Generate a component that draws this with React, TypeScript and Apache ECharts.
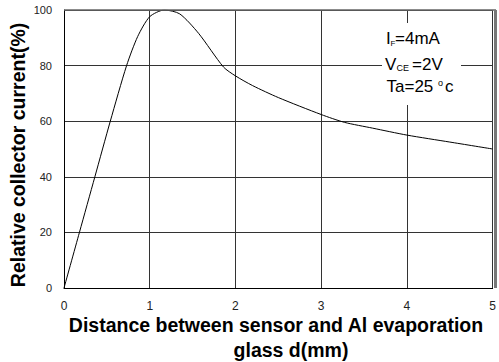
import React, { useEffect, useRef } from "react";
import * as echarts from "echarts";

const distance = [0, 0.18, 0.36, 0.54, 0.73, 0.86, 1.0, 1.17, 1.35, 1.57, 1.86, 2.0, 2.2, 2.5, 3.0, 3.27, 3.6, 4.0, 4.5, 5.0];
const current = [0, 20, 40, 60, 80, 90.5, 97.6, 100, 98.6, 91.6, 79.5, 76.3, 72.8, 68.5, 62.4, 59.6, 57.5, 55, 52.5, 50];
const xTicks = [0, 1, 2, 3, 4, 5];
const yTicks = [0, 20, 40, 60, 80, 100];

const FONT = "'Liberation Sans', Arial, Helvetica, sans-serif";

export default function App() {
  const ref = useRef<HTMLDivElement>(null);
  useEffect(() => {
    if (!ref.current) return;
    const chart = echarts.init(ref.current, undefined, { renderer: "svg" });
    const txt = (text: string, x: number, y: number, size: number) => ({
      type: "text",
      x,
      y,
      z: 110,
      style: {
        text,
        fontFamily: FONT,
        fontSize: size,
        fill: "#000",
        align: "left",
        verticalAlign: "middle",
      },
    });
    const title = (text: string, x: number, y: number, rotation = 0) => ({
      type: "text",
      x,
      y,
      rotation,
      z: 110,
      style: {
        text,
        fontFamily: FONT,
        fontSize: 19.5,
        fontWeight: "bold",
        fill: "#000",
        align: "center",
        verticalAlign: "middle",
      },
    });
    chart.setOption({
      animation: false,
      backgroundColor: "#fff",
      grid: { left: 64, right: 3, top: 10, bottom: 74, containLabel: false },
      xAxis: {
        type: "value",
        min: xTicks[0],
        max: xTicks[xTicks.length - 1],
        interval: 1,
        axisLine: { show: true, lineStyle: { color: "#000", width: 1 } },
        axisTick: { show: false },
        axisLabel: {
          margin: 12,
          fontSize: 12,
          lineHeight: 12,
          color: "#222",
          fontFamily: FONT,
          formatter: (v: number) => (xTicks.includes(v) ? String(v) : ""),
        },
        splitLine: { show: true, lineStyle: { color: "#333", width: 1 } },
      },
      yAxis: {
        type: "value",
        min: yTicks[0],
        max: yTicks[yTicks.length - 1],
        interval: 20,
        axisLine: { show: true, lineStyle: { color: "#000", width: 1 } },
        axisTick: { show: false },
        axisLabel: {
          margin: 12,
          fontSize: 11,
          color: "#222",
          fontFamily: FONT,
          formatter: (v: number) => (yTicks.includes(v) ? String(v) : ""),
        },
        splitLine: { show: true, lineStyle: { color: "#333", width: 1 } },
      },
      series: [
        {
          type: "line",
          data: distance.map((d, i) => [d, current[i]]),
          smooth: 0.25,
          showSymbol: false,
          symbol: "none",
          lineStyle: { color: "#000", width: 1 },
          z: 5,
        },
      ],
      graphic: [
        { type: "line", z: 105, shape: { x1: 64, y1: 10, x2: 496, y2: 10 }, style: { stroke: "#666", lineWidth: 1.5 } },
        { type: "line", z: 105, shape: { x1: 495.5, y1: 10, x2: 495.5, y2: 288 }, style: { stroke: "#777", lineWidth: 3 } },
        { type: "rect", z: 100, shape: { x: 382, y: 23, width: 79, height: 82 }, style: { fill: "#fff" } },
        txt("I", 386, 38, 17),
        txt("F", 390.5, 43.5, 8),
        txt("=4mA", 395, 38, 17),
        txt("V", 385, 64, 17),
        txt("CE", 396.5, 68, 9),
        txt("=2V", 412, 64, 17),
        txt("Ta=25", 386.5, 86, 17),
        txt("o", 438, 83, 9),
        txt("c", 445, 86, 17),
        title("Distance between sensor and Al evaporation", 276, 325),
        title("glass d(mm)", 291, 350),
        title("Relative collector current(%)", 18, 155, Math.PI / 2),
      ],
    });
    return () => chart.dispose();
  }, []);
  return (
    <div
      ref={ref}
      style={{ position: "absolute", left: 0, top: 0, width: 499, height: 362, background: "#fff" }}
    />
  );
}
